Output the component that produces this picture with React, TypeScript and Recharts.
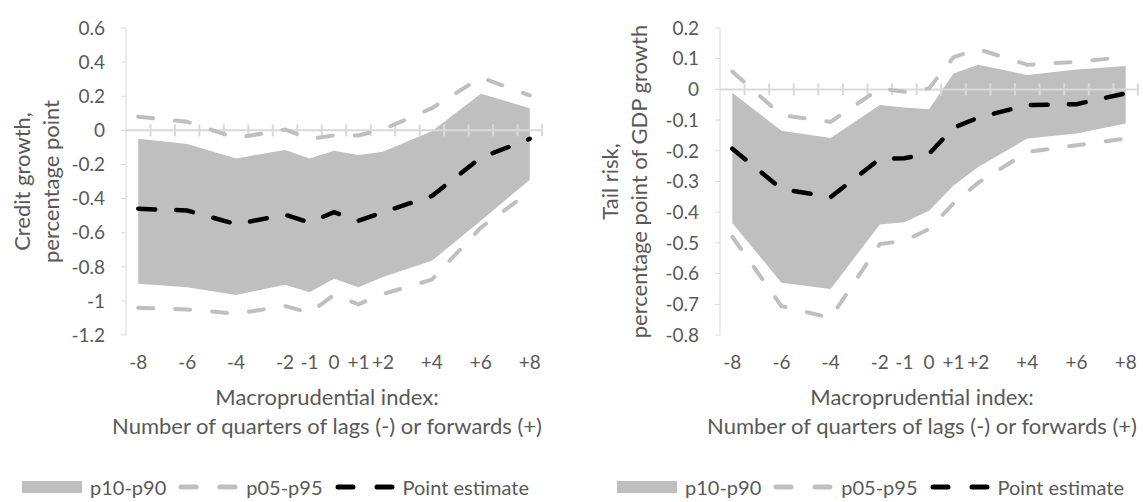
import { ComposedChart, Area, Line, XAxis, YAxis, ReferenceLine, Legend } from 'recharts';

const quarters = ['-8', '-7', '-6', '-5', '-4', '-3', '-2', '-1', '0', '+1', '+2', '+3', '+4', '+5', '+6', '+7', '+8'];
const shownTicks = ['-8', '-6', '-4', '-2', '-1', '0', '+1', '+2', '+4', '+6', '+8'];

// credit growth panel (null = quarter not estimated)
const creditP10 = [-0.9, null, -0.92, null, -0.965, null, -0.905, -0.95, -0.87, -0.92, -0.86, null, -0.765, null, -0.53, null, -0.29];
const creditP90 = [-0.05, null, -0.08, null, -0.165, null, -0.115, -0.165, -0.12, -0.145, -0.125, null, -0.005, null, 0.215, null, 0.13];
const creditP05 = [-1.04, null, -1.05, null, -1.075, null, -1.03, -1.07, -0.965, -1.02, -0.96, null, -0.875, null, -0.57, null, -0.36];
const creditP95 = [0.08, null, 0.05, null, -0.045, null, 0.005, -0.05, -0.03, -0.03, 0.005, null, 0.13, null, 0.31, null, 0.205];
const creditPoint = [-0.46, null, -0.47, null, -0.55, null, -0.495, -0.54, -0.48, -0.53, -0.48, null, -0.385, null, -0.16, null, -0.05];
const creditTicks = [0.6, 0.4, 0.2, 0, -0.2, -0.4, -0.6, -0.8, -1, -1.2];

// tail risk panel
const tailP10 = [-0.435, null, -0.63, null, -0.65, null, -0.44, -0.433, -0.395, -0.313, -0.253, null, -0.16, null, -0.144, null, -0.111];
const tailP90 = [-0.011, null, -0.135, null, -0.158, null, -0.051, -0.059, -0.065, 0.052, 0.08, null, 0.047, null, 0.065, null, 0.076];
const tailP05 = [-0.48, null, -0.706, null, -0.744, null, -0.504, -0.493, -0.455, -0.371, -0.304, null, -0.204, null, -0.182, null, -0.16];
const tailP95 = [0.058, null, -0.084, null, -0.106, null, 0.003, -0.008, 0.003, 0.105, 0.131, null, 0.08, null, 0.09, null, 0.105];
const tailPoint = [-0.193, null, -0.324, null, -0.351, null, -0.226, -0.224, -0.21, -0.125, -0.092, null, -0.051, null, -0.048, null, -0.013];
const tailTicks = [0.2, 0.1, 0, -0.1, -0.2, -0.3, -0.4, -0.5, -0.6, -0.7, -0.8];

const legendNames = ['p10-p90', 'p05-p95', 'Point estimate'];
const xTitle = ['Macroprudential index:', 'Number of quarters of lags (-) or forwards (+)'];

const FONT = "Lato, 'Open Sans', sans-serif";
const TEXT = '#595959';
const AXIS = '#d9d9d9';
const BAND = '#bfbfbf';

function buildRows(p10: any[], p90: any[], p05: any[], p95: any[], point: any[]) {
    return quarters.map((q, i) => ({
        q,
        band: p10[i] == null ? null : [p10[i], p90[i]],
        p05: p05[i],
        p95: p95[i],
        point: point[i],
    }));
}

// horizontal axis crossing at 0, with cross tick marks between categories
const ZeroAxis = (props: any) => {
    const { x1, x2, y1 } = props;
    const step = (x2 - x1) / quarters.length;
    return (
        <g>
            <line x1={x1} x2={x2} y1={y1} y2={y1} stroke={AXIS} strokeWidth={2} />
            {quarters.map((q, i) => (
                <line key={q} x1={x1 + step * (i + 1)} x2={x1 + step * (i + 1)} y1={y1 - 6} y2={y1 + 6} stroke={AXIS} strokeWidth={2} />
            ))}
        </g>
    );
};

const LegendIcon = ({ kind }: { kind: number }) => {
    if (kind === 0) return <div style={{ width: 60, height: 12, background: BAND }} />;
    const color = kind === 1 ? BAND : '#000';
    return (
        <svg width={60} height={12}>
            <line x1={3} x2={57} y1={6} y2={6} stroke={color} strokeWidth={5} strokeLinecap="round" strokeDasharray="15 24" />
        </svg>
    );
};

const LegendContent = () => (
    <div style={{ display: 'flex', justifyContent: 'center', alignItems: 'center', height: 30, fontSize: 20, color: TEXT, fontFamily: FONT }}>
        {legendNames.map((n, i) => (
            <div key={n} style={{ display: 'flex', alignItems: 'center', marginLeft: i === 0 ? 0 : 12 }}>
                <LegendIcon kind={i} />
                <span style={{ marginLeft: 8, whiteSpace: 'nowrap' }}>{n}</span>
            </div>
        ))}
    </div>
);

interface PanelProps {
    rows: any[];
    ticks: number[];
    yTitle: string[];
    titleX: number;
    width: number;
    axisWidth: number;
    rightMargin: number;
    legendLeft: number;
    legendWidth: number;
}

function Panel({ rows, ticks, yTitle, titleX, width, axisWidth, rightMargin, legendLeft, legendWidth }: PanelProps) {
    return (
        <ComposedChart width={width} height={502} data={rows} margin={{ top: 28, right: rightMargin, bottom: 0, left: 0 }}>
            <XAxis
                dataKey="q"
                type="category"
                scale="band"
                interval={0}
                height={137}
                axisLine={false}
                tickLine={false}
                tickSize={0}
                tickMargin={21}
                tick={{ fill: TEXT, fontSize: 19 }}
                tickFormatter={(v: string) => (shownTicks.includes(v) ? v : '')}
                label={{
                    content: (p: any) => {
                        const vb = p.viewBox;
                        const cx = vb.x + vb.width / 2 - 7;
                        return (
                            <text textAnchor="middle" fill={TEXT} fontSize={22}>
                                <tspan x={cx} y={vb.y + 70}>{xTitle[0]}</tspan>
                                <tspan x={cx} y={vb.y + 99}>{xTitle[1]}</tspan>
                            </text>
                        );
                    },
                }}
            />
            <YAxis
                type="number"
                width={axisWidth}
                domain={[ticks[ticks.length - 1], ticks[0]]}
                ticks={ticks}
                interval={0}
                allowDataOverflow
                stroke={AXIS}
                tickSize={5}
                tickMargin={16}
                tick={{ fill: TEXT, fontSize: 19 }}
                tickFormatter={(v: number) => String(Math.round(v * 10) / 10)}
                label={{
                    content: (p: any) => {
                        const vb = p.viewBox;
                        const cy = vb.y + vb.height / 2;
                        return (
                            <text transform={`rotate(-90, ${titleX}, ${cy})`} textAnchor="middle" fill={TEXT} fontSize={22}>
                                <tspan x={titleX} y={cy}>{yTitle[0]}</tspan>
                                <tspan x={titleX} y={cy + 29}>{yTitle[1]}</tspan>
                            </text>
                        );
                    },
                }}
            />
            <Legend
                verticalAlign="bottom"
                height={30}
                wrapperStyle={{ left: legendLeft, width: legendWidth }}
                content={() => <LegendContent />}
            />
            <Area
                type="linear"
                dataKey="band"
                fill={BAND}
                fillOpacity={1}
                stroke="none"
                connectNulls
                isAnimationActive={false}
                legendType="none"
            />
            <ReferenceLine y={0} shape={ZeroAxis} />
            <Line type="linear" dataKey="p05" stroke={BAND} strokeWidth={4} strokeDasharray="15 22" strokeLinecap="round" dot={false} activeDot={false} connectNulls isAnimationActive={false} />
            <Line type="linear" dataKey="p95" stroke={BAND} strokeWidth={4} strokeDasharray="15 22" strokeLinecap="round" dot={false} activeDot={false} connectNulls isAnimationActive={false} />
            <Line type="linear" dataKey="point" stroke="#000" strokeWidth={4.5} strokeDasharray="17 21" strokeLinecap="round" dot={false} activeDot={false} connectNulls isAnimationActive={false} />
        </ComposedChart>
    );
}

export default function App() {
    const creditRows = buildRows(creditP10, creditP90, creditP05, creditP95, creditPoint);
    const tailRows = buildRows(tailP10, tailP90, tailP05, tailP95, tailPoint);
    return (
        <div style={{ position: 'absolute', left: 0, top: 0, width: 1143, height: 502, background: '#fff', fontFamily: FONT }}>
            <div style={{ position: 'absolute', left: 0, top: 0 }}>
                <Panel
                    rows={creditRows}
                    ticks={creditTicks}
                    yTitle={['Credit growth,', 'percentage point']}
                    titleX={30}
                    width={560}
                    axisWidth={126}
                    rightMargin={18}
                    legendLeft={0}
                    legendWidth={551}
                />
            </div>
            <div style={{ position: 'absolute', left: 560, top: 0 }}>
                <Panel
                    rows={tailRows}
                    ticks={tailTicks}
                    yTitle={['Tail risk,', 'percentage point of GDP growth']}
                    titleX={58}
                    width={583}
                    axisWidth={160}
                    rightMargin={5}
                    legendLeft={0}
                    legendWidth={621}
                />
            </div>
        </div>
    );
}
